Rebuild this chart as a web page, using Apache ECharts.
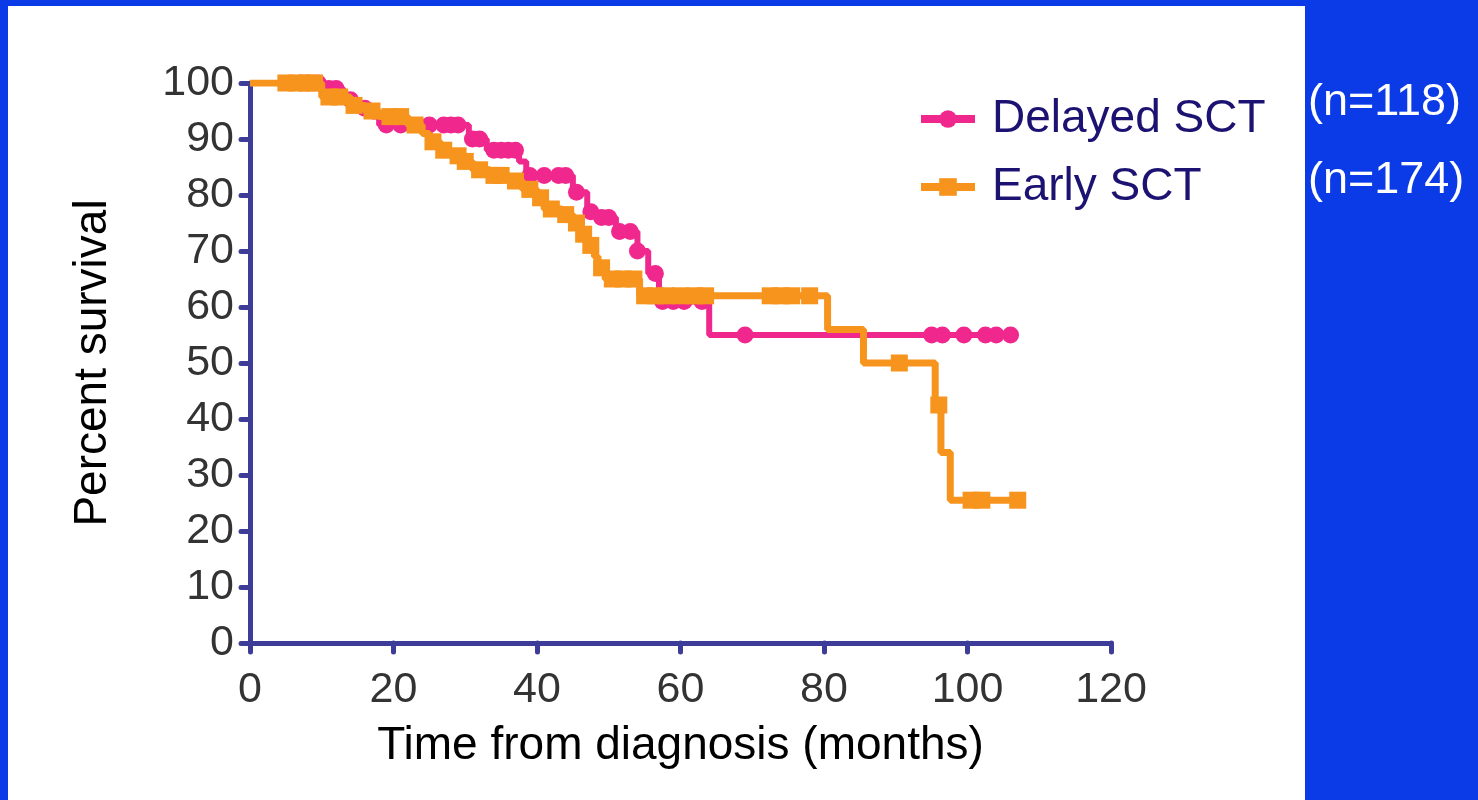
<!DOCTYPE html>
<html>
<head>
    <meta charset="utf-8" />
    <title>Survival</title>
    <script src="https://cdn.jsdelivr.net/npm/echarts@6/dist/echarts.min.js"></script>
    <style>
        html, body { margin: 0; padding: 0; background: #0b3be6; }
        #container { width: 1478px; height: 800px; }
    </style>
</head>
<body>
    <div id="container"></div>
<script>
    // step points [month, percent] - level starts at that month
    var delayedSteps = [[0, 100], [10.5, 99], [13, 97], [15, 95.5], [17, 94], [18, 92.5], [30.5, 90], [33, 88], [37.5, 86], [38.5, 83.5],
        [45, 80.5], [47, 77], [48.5, 76], [51, 73.5], [54, 70], [55.5, 66], [57, 61], [64, 55], [106, 55]];
    var delayedCensor = [[7, 100], [8, 100], [9.5, 100], [11, 99], [12, 99], [14, 97], [16, 95.5], [19, 92.5], [21, 92.5], [25, 92.5],
        [27, 92.5], [28, 92.5], [29, 92.5], [31, 90], [32, 90], [34, 88], [35, 88], [36, 88], [37, 88], [39, 83.5], [41, 83.5], [43, 83.5],
        [44, 83.5], [45.5, 80.5], [47.5, 77], [49, 76], [50, 76], [51.5, 73.5], [53, 73.5], [54, 70], [56.5, 66], [57.5, 61], [59, 61],
        [60.5, 61], [63, 61], [69, 55], [95, 55], [96.5, 55], [99.5, 55], [102.5, 55], [104, 55], [106, 55]];

    var earlySteps = [[0, 100], [10, 97.5], [14, 96], [16, 95], [18, 94], [22, 92.5], [24, 91], [25, 89.5], [26.5, 88], [28, 87],
        [29.5, 86], [31, 84.5], [33.5, 83.5], [36, 82.5], [38, 81], [40, 79.5], [41, 77.5], [43.5, 76.5], [45, 75], [46, 73], [47, 71],
        [48, 69], [48.5, 67], [49.5, 65], [54.3, 62], [80.5, 56], [85.5, 50], [95.5, 42.5], [96.3, 34], [97.6, 25.5], [107, 25.5]];
    var earlyCensor = [[5, 100], [6.5, 100], [8, 100], [9, 100], [11, 97.5], [12.5, 97.5], [14.5, 96], [17, 95], [19.5, 94], [21, 94],
        [23, 92.5], [25.5, 89.5], [27, 88], [29, 87], [30, 86], [32, 84.5], [34, 83.5], [35, 83.5], [37, 82.5], [39, 81], [40.5, 79.5],
        [42, 77.5], [44, 76.5], [45.5, 75], [46.5, 73], [47.5, 71], [49, 67], [50.5, 65], [52, 65], [53.5, 65], [55, 62], [56.5, 62],
        [58, 62], [60, 62], [62, 62], [63.5, 62], [72.5, 62], [74, 62], [75.5, 62], [78, 62], [90.5, 50], [96, 42.5], [100.5, 25.5],
        [102, 25.5], [107, 25.5]];

    var seriesNames = ['Delayed SCT', 'Early SCT'];
    var countLabels = ['(n=118)', '(n=174)'];

    var pink = '#f0288e';
    var orange = '#f7941d';
    var axisColor = '#3d3d99';
    var font = 'Liberation Sans, Arial';

    var myChart = echarts.init(document.getElementById('container'));

    var option = {
        backgroundColor: '#0b3be6',
        animation: false,
        graphic: [
            { type: 'rect', left: 8, top: 6, shape: { width: 1297, height: 800 }, style: { fill: '#ffffff' }, z: -10 },
            { type: 'text', left: 1308, top: 80, style: { text: countLabels[0], fill: '#ffffff', font: '45px ' + font } },
            { type: 'text', left: 1308, top: 158, style: { text: countLabels[1], fill: '#ffffff', font: '45px ' + font } }
        ],
        grid: { left: 250, right: 367, top: 83, bottom: 157 },
        legend: {
            data: seriesNames,
            orient: 'vertical',
            left: 912,
            top: 91,
            itemWidth: 54,
            itemHeight: 22,
            itemGap: 22,
            lineStyle: { width: 8 },
            textStyle: { fontSize: 46, color: '#1c1272', fontFamily: font, padding: [0, 0, 0, 12] }
        },
        xAxis: {
            type: 'value',
            min: 0,
            max: 120,
            interval: 20,
            name: 'Time from diagnosis (months)',
            nameLocation: 'middle',
            nameGap: 80,
            nameTextStyle: { fontSize: 46, color: '#000', fontFamily: font },
            axisLine: { show: true, lineStyle: { color: axisColor, width: 5 } },
            axisTick: { show: true, length: 9, lineStyle: { color: axisColor, width: 5, cap: 'round' } },
            axisLabel: { fontSize: 43, color: '#333', margin: 26, fontFamily: font },
            splitLine: { show: false }
        },
        yAxis: {
            type: 'value',
            min: 0,
            max: 100,
            interval: 10,
            name: 'Percent survival',
            nameLocation: 'middle',
            nameGap: 134,
            nameRotate: 90,
            nameTextStyle: { fontSize: 46, color: '#000', fontFamily: font },
            axisLine: { show: true, lineStyle: { color: axisColor, width: 5 } },
            axisTick: { show: true, length: 9, lineStyle: { color: axisColor, width: 5, cap: 'round' } },
            axisLabel: { fontSize: 43, color: '#333', margin: 16, fontFamily: font },
            splitLine: { show: false }
        },
        series: [
            {
                name: seriesNames[0], type: 'line', step: 'end', data: delayedSteps,
                symbol: 'circle', symbolSize: 16, showSymbol: false,
                lineStyle: { color: pink, width: 6 }, itemStyle: { color: pink }, z: 3
            },
            {
                name: seriesNames[1], type: 'line', step: 'end', data: earlySteps,
                symbol: 'rect', symbolSize: 17, showSymbol: false,
                lineStyle: { color: orange, width: 7 }, itemStyle: { color: orange }, z: 4
            },
            {
                name: 'delayed-censor', type: 'scatter', data: delayedCensor,
                symbol: 'circle', symbolSize: 17, itemStyle: { color: pink, opacity: 1 }, z: 3
            },
            {
                name: 'early-censor', type: 'scatter', data: earlyCensor,
                symbol: 'rect', symbolSize: 17, itemStyle: { color: orange, opacity: 1 }, z: 4
            }
        ]
    };

    myChart.setOption(option);
</script>
</body>
</html>
